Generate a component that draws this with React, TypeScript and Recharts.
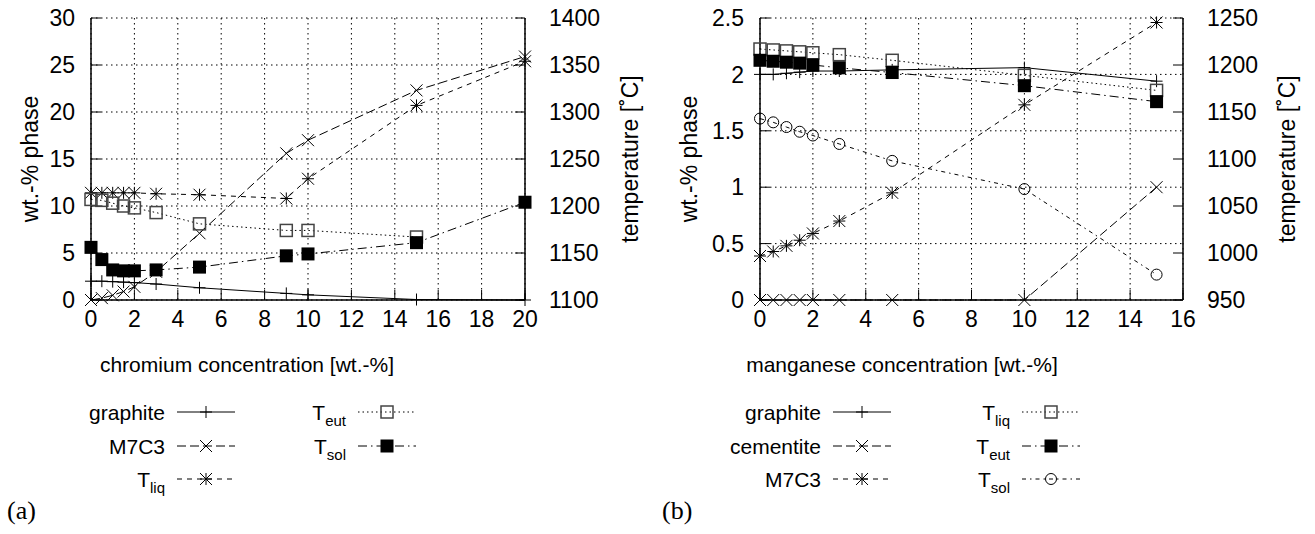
import React from "react";
import { LineChart, Line, XAxis, YAxis, CartesianGrid, Label } from "recharts";

// panel (a): chromium additions
const crConc = [0, 0.5, 1, 1.5, 2, 3, 5, 9, 10, 15, 20];
const crGraphite = [2.0, 2.0, 1.95, 1.9, 1.85, 1.7, 1.3, 0.7, 0.55, 0.05, 0];
const crM7C3 = [0, 0.2, 0.5, 0.9, 1.4, 3.0, 7.1, 15.6, 17.0, 22.3, 25.9];
const crTliq = [1214, 1214, 1214, 1214, 1214, 1213, 1212, 1208, 1229, 1307, 1354];
const crTeut = [1207, 1206, 1203, 1200, 1198, 1193, 1181, 1174, 1174, 1167, null];
const crTsol = [1156, 1143, 1132, 1131, 1131, 1132, 1135, 1147, 1149, 1161, 1204];

// panel (b): manganese additions
const mnConc = [0, 0.5, 1, 1.5, 2, 3, 5, 10, 15];
const mnGraphite = [2.0, 2.0, 2.01, 2.02, 2.03, 2.03, 2.04, 2.06, 1.94];
const mnCementite = [0, 0, 0, 0, 0, 0, 0, 0, 1.0];
const mnM7C3 = [0.39, 0.43, 0.48, 0.53, 0.59, 0.7, 0.95, 1.73, 2.46];
const mnTliq = [1217, 1216, 1215, 1214, 1213, 1211, 1205, 1189, 1173];
const mnTeut = [1205, 1204, 1203, 1202, 1200, 1197, 1192, 1178, 1161];
const mnTsol = [1143, 1139, 1134, 1129, 1125, 1116, 1098, 1068, 977];

const crXTicks = [0, 2, 4, 6, 8, 10, 12, 14, 16, 18, 20];
const crWtTicks = [0, 5, 10, 15, 20, 25, 30];
const crTTicks = [1100, 1150, 1200, 1250, 1300, 1350, 1400];
const mnXTicks = [0, 2, 4, 6, 8, 10, 12, 14, 16];
const mnWtTicks = [0, 0.5, 1, 1.5, 2, 2.5];
const mnTTicks = [950, 1000, 1050, 1100, 1150, 1200, 1250];

const FONT = '"Liberation Sans", Arial, Helvetica, sans-serif';
const FS = 21; // x-axis title and key
const FS_TICK = 23;
const FS_VTITLE = 23;

type Shape = "plus" | "cross" | "star" | "box" | "boxFilled" | "circle";

interface SeriesDef {
  key: string;
  name: string;
  sub?: string;
  axis: "wt" | "temp";
  dash?: string;
  shape: Shape;
}

const DASH_LONG = "9 4";
const DASH_SHORT = "5 5";
const DOTS = "1.5 3";
const DASH_DOT = "9 4 1.5 4";
const DASH_DOT_SPARSE = "4 4 1.5 4";

const crSeries: SeriesDef[] = [
  { key: "graphite", name: "graphite", axis: "wt", shape: "plus" },
  { key: "m7c3", name: "M7C3", axis: "wt", dash: DASH_LONG, shape: "cross" },
  { key: "tliq", name: "T", sub: "liq", axis: "temp", dash: DASH_SHORT, shape: "star" },
  { key: "teut", name: "T", sub: "eut", axis: "temp", dash: DOTS, shape: "box" },
  { key: "tsol", name: "T", sub: "sol", axis: "temp", dash: DASH_DOT, shape: "boxFilled" },
];

const mnSeries: SeriesDef[] = [
  { key: "graphite", name: "graphite", axis: "wt", shape: "plus" },
  { key: "cementite", name: "cementite", axis: "wt", dash: DASH_LONG, shape: "cross" },
  { key: "m7c3", name: "M7C3", axis: "wt", dash: DASH_SHORT, shape: "star" },
  { key: "tliq", name: "T", sub: "liq", axis: "temp", dash: DOTS, shape: "box" },
  { key: "teut", name: "T", sub: "eut", axis: "temp", dash: DASH_DOT, shape: "boxFilled" },
  { key: "tsol", name: "T", sub: "sol", axis: "temp", dash: DASH_DOT_SPARSE, shape: "circle" },
];

const crRows = crConc.map((c, i) => ({
  c,
  graphite: crGraphite[i],
  m7c3: crM7C3[i],
  tliq: crTliq[i],
  teut: crTeut[i],
  tsol: crTsol[i],
}));

const mnRows = mnConc.map((c, i) => ({
  c,
  graphite: mnGraphite[i],
  cementite: mnCementite[i],
  m7c3: mnM7C3[i],
  tliq: mnTliq[i],
  teut: mnTeut[i],
  tsol: mnTsol[i],
}));

function Glyph({ x, y, shape }: { x?: number | null; y?: number | null; shape: Shape }) {
  if (x == null || y == null || Number.isNaN(x) || Number.isNaN(y)) return <g />;
  const s = 6;
  const plus = `M${x - s} ${y}H${x + s}M${x} ${y - s}V${y + s}`;
  const cross = `M${x - s} ${y - s}L${x + s} ${y + s}M${x - s} ${y + s}L${x + s} ${y - s}`;
  switch (shape) {
    case "plus":
      return <path d={plus} stroke="#000" strokeWidth={1} fill="none" />;
    case "cross":
      return <path d={cross} stroke="#000" strokeWidth={1} fill="none" />;
    case "star":
      return <path d={plus + cross} stroke="#000" strokeWidth={1} fill="none" />;
    case "box":
      return <rect x={x - 6} y={y - 6} width={12} height={12} stroke="#444" strokeWidth={1.5} fill="none" />;
    case "boxFilled":
      return <rect x={x - 6.5} y={y - 6.5} width={13} height={13} fill="#000" />;
    case "circle":
      return <circle cx={x} cy={y} r={5.5} stroke="#000" strokeWidth={1} fill="none" />;
  }
}

const vTitle = (text: string, x: number) => (p: any) => {
  const vb = p.viewBox || {};
  const y = vb.y + vb.height / 2;
  return (
    <text x={x} y={y} transform={`rotate(-90 ${x} ${y})`} textAnchor="middle" dominantBaseline="central"
      fontSize={FS_VTITLE} fontFamily={FONT} fill="#000">
      {text}
    </text>
  );
};

const hTitle = (text: string, x: number, y: number) => () => (
  <text x={x} y={y} textAnchor="middle" dominantBaseline="central" fontSize={FS} fontFamily={FONT} fill="#000">
    {text}
  </text>
);

const tickStyle = { fontSize: FS_TICK, fill: "#000", fontFamily: FONT };
const axisLine = { stroke: "#000", strokeWidth: 1.5 };

interface PanelProps {
  rows: any[];
  series: SeriesDef[];
  width: number;
  plotLeft: number;
  plotRight: number;
  xMax: number;
  xTicks: number[];
  wtMax: number;
  wtTicks: number[];
  tDomain: [number, number];
  tTicks: number[];
  xTitle: string;
  xTitleX: number;
  wtTitleX: number;
  tTitleX: number;
}

function Panel(p: PanelProps) {
  return (
    <LineChart width={p.width} height={400} data={p.rows} margin={{ top: 18, right: 0, bottom: 55, left: 0 }}>
      <CartesianGrid xAxisId="b" yAxisId="wt" stroke="#000" strokeDasharray="1.5 3.5" strokeWidth={1} />
      <XAxis xAxisId="t" orientation="top" type="number" domain={[0, p.xMax]} height={0}
        tick={false} tickLine={false} axisLine={axisLine} />
      <XAxis xAxisId="b" dataKey="c" type="number" domain={[0, p.xMax]} ticks={p.xTicks} interval={0}
        height={45} tickSize={-10} tickMargin={21} tick={tickStyle} tickLine={{ stroke: "#000" }} axisLine={axisLine}>
        <Label content={hTitle(p.xTitle, p.xTitleX, 364)} />
      </XAxis>
      <YAxis yAxisId="wt" orientation="left" type="number" domain={[0, p.wtMax]} ticks={p.wtTicks} interval={0}
        width={p.plotLeft} tickSize={-10} tickMargin={26} tick={tickStyle} tickLine={{ stroke: "#000" }} axisLine={axisLine}>
        <Label content={vTitle("wt.-% phase", p.wtTitleX)} />
      </YAxis>
      <YAxis yAxisId="temp" orientation="right" type="number" domain={p.tDomain} ticks={p.tTicks} interval={0}
        width={p.width - p.plotRight} tickSize={-10} tickMargin={34} tick={tickStyle} tickLine={{ stroke: "#000" }}
        axisLine={axisLine}>
        <Label content={vTitle("temperature [˚C]", p.tTitleX)} />
      </YAxis>
      {p.series.map((s) => (
        <Line
          key={s.key}
          xAxisId="b"
          yAxisId={s.axis}
          dataKey={s.key}
          type="linear"
          stroke="#000"
          strokeWidth={1}
          strokeDasharray={s.dash}
          isAnimationActive={false}
          legendType="none"
          dot={(d: any) => <Glyph key={`${s.key}-${d.index}`} x={d.cx} y={d.cy} shape={s.shape} />}
          activeDot={false}
        />
      ))}
    </LineChart>
  );
}

interface KeyEntry {
  s: SeriesDef;
  edge: number;
  y: number;
}

function KeyRow({ s, edge, y }: KeyEntry) {
  const x0 = edge + 12;
  const x1 = x0 + 58;
  return (
    <g>
      <text x={edge} y={y + 8} textAnchor="end" fontSize={FS} fontFamily={FONT} fill="#000">
        {s.name}
        {s.sub && (
          <tspan fontSize={15} dy={6}>
            {s.sub}
          </tspan>
        )}
      </text>
      <line x1={x0} y1={y} x2={x1} y2={y} stroke="#000" strokeWidth={1} strokeDasharray={s.dash} />
      <Glyph x={(x0 + x1) / 2} y={y} shape={s.shape} />
    </g>
  );
}

const ROWS_Y = [412, 446, 479];

function Key({ series, edges, split }: { series: SeriesDef[]; edges: [number, number]; split: number }) {
  return (
    <svg width={1315} height={534} style={{ position: "absolute", left: 0, top: 0 }}>
      {series.map((s, i) => (
        <KeyRow key={s.key} s={s} edge={i < split ? edges[0] : edges[1]} y={ROWS_Y[i < split ? i : i - split]} />
      ))}
    </svg>
  );
}

export default function App() {
  return (
    <div style={{ position: "relative", width: 1315, height: 534, background: "#fff", overflow: "hidden" }}>
      <style>{"body{margin:0}"}</style>
      <div style={{ position: "absolute", left: 0, top: 0 }}>
        <Panel rows={crRows} series={crSeries} width={660} plotLeft={91} plotRight={525}
          xMax={20} xTicks={crXTicks} wtMax={30} wtTicks={crWtTicks} tDomain={[1100, 1400]} tTicks={crTTicks}
          xTitle="chromium concentration [wt.-%]" xTitleX={247} wtTitleX={30} tTitleX={630} />
      </div>
      <div style={{ position: "absolute", left: 650, top: 0 }}>
        <Panel rows={mnRows} series={mnSeries} width={665} plotLeft={110} plotRight={533}
          xMax={16} xTicks={mnXTicks} wtMax={2.5} wtTicks={mnWtTicks} tDomain={[950, 1250]} tTicks={mnTTicks}
          xTitle="manganese concentration [wt.-%]" xTitleX={252} wtTitleX={39} tTitleX={637} />
      </div>
      <Key series={crSeries} edges={[165, 346]} split={3} />
      <Key series={mnSeries} edges={[821, 1010]} split={3} />
      <div style={{ position: "absolute", left: 7, top: 496, fontFamily: '"Liberation Serif", "DejaVu Serif", serif', fontSize: 26 }}>
        (a)
      </div>
      <div style={{ position: "absolute", left: 662, top: 496, fontFamily: '"Liberation Serif", "DejaVu Serif", serif', fontSize: 26 }}>
        (b)
      </div>
    </div>
  );
}
